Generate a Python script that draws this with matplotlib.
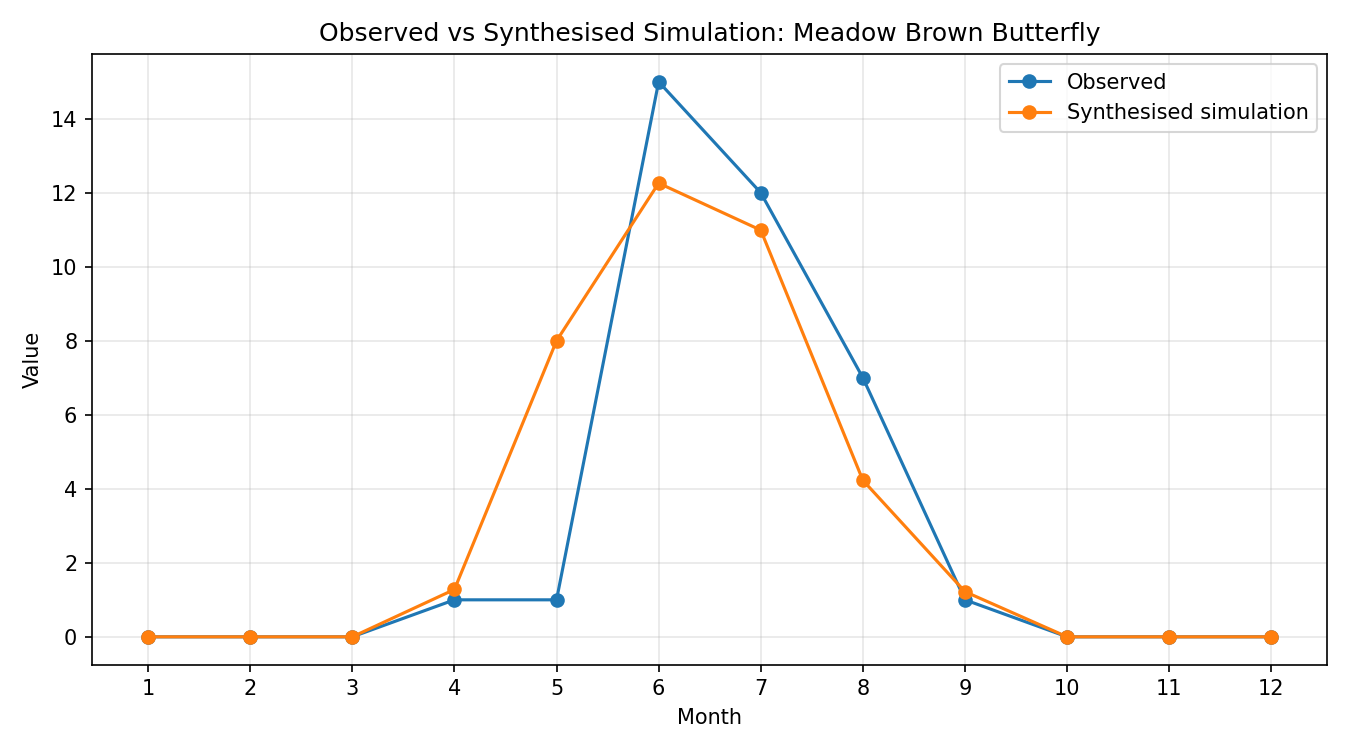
import matplotlib
matplotlib.use('Agg')
import matplotlib.pyplot as plt

# Monthly counts
months = [1, 2, 3, 4, 5, 6, 7, 8, 9, 10, 11, 12]
observed = [0, 0, 0, 1, 1, 15, 12, 7, 1, 0, 0, 0]
synthesised = [0, 0, 0, 1.28, 8.0, 12.26, 10.99, 4.23, 1.22, 0, 0, 0]

fig, ax = plt.subplots(figsize=(9, 5), dpi=150)

ax.plot(months, observed, marker='o', label='Observed')
ax.plot(months, synthesised, marker='o', label='Synthesised simulation')

ax.set_title('Observed vs Synthesised Simulation: Meadow Brown Butterfly')
ax.set_xlabel('Month')
ax.set_ylabel('Value')
ax.set_xticks(months)
ax.grid(True, alpha=0.3)
ax.legend()

plt.tight_layout()
plt.savefig('out.png', dpi=150)
